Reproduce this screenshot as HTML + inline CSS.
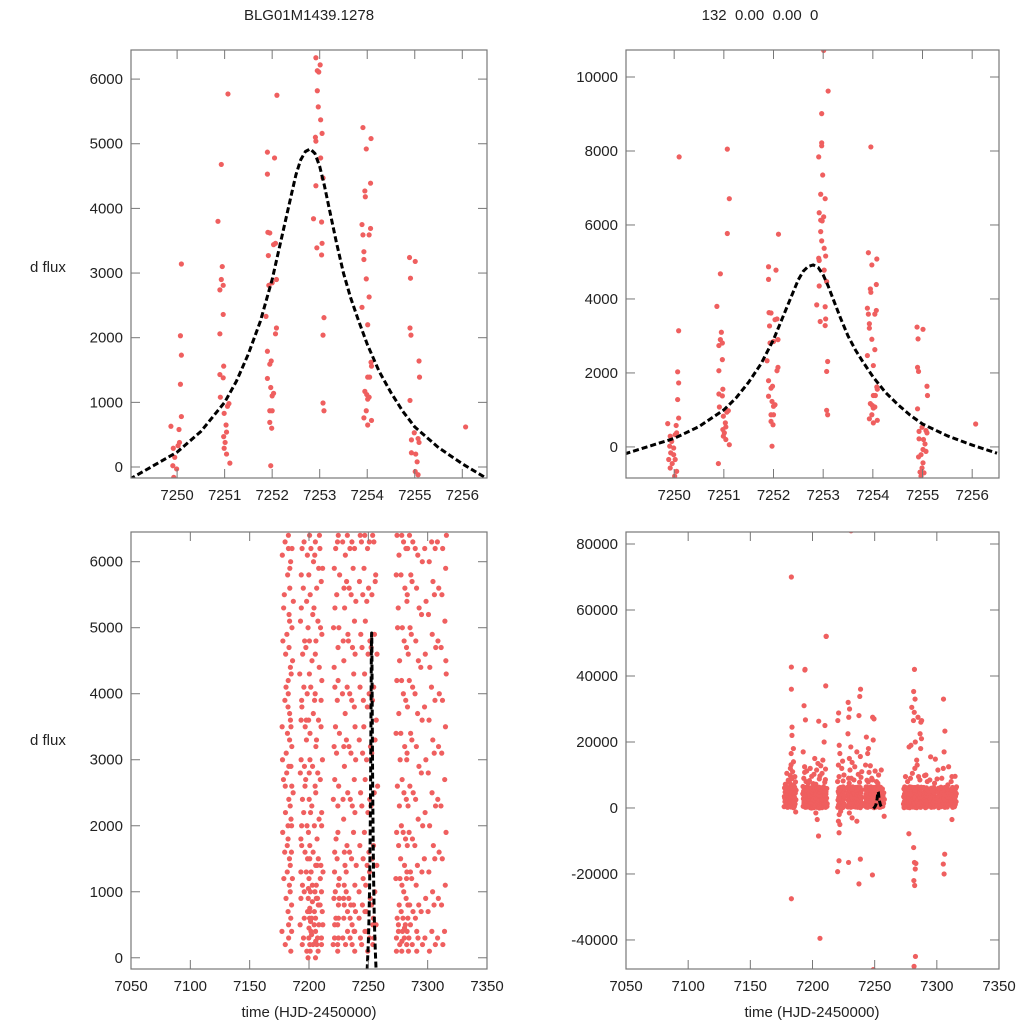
<!DOCTYPE html>
<html><head><meta charset="utf-8"><style>
html,body{margin:0;padding:0;background:#fff;width:1024px;height:1024px;overflow:hidden;}
svg{display:block;font-family:"Liberation Sans",sans-serif;}
</style></head><body>
<svg id="chart" width="1024" height="1024" viewBox="0 0 1024 1024" xmlns="http://www.w3.org/2000/svg">
<rect width="1024" height="1024" fill="#fff"/>
<text x="309" y="20" font-size="15" text-anchor="middle" fill="#222">BLG01M1439.1278</text>
<text x="760" y="20" font-size="15" text-anchor="middle" fill="#222" xml:space="preserve">132  0.00  0.00  0</text>
<text x="30" y="272" font-size="15" fill="#222">d flux</text>
<text x="30" y="745" font-size="15" fill="#222">d flux</text>
<text x="309" y="1017" font-size="15" text-anchor="middle" fill="#222">time (HJD-2450000)</text>
<text x="812" y="1017" font-size="15" text-anchor="middle" fill="#222">time (HJD-2450000)</text>
</svg>
<script>
const topTime=[7249.87,7250.10,7250.09,7250.07,7250.09,7250.07,7250.09,7250.04,7250.05,7250.02,7249.92,7249.95,7249.91,7249.99,7249.93,7249.99,7249.89,7250.02,7249.96,7249.92,7250.05,7250.01,7249.99,
7251.07,7251.11,7251.07,7250.93,7250.86,7250.95,7250.93,7250.97,7250.90,7250.97,7250.90,7250.98,7250.90,7250.97,7250.91,7251.09,7251.06,7250.99,7251.03,7251.04,7250.98,7251.01,7250.99,7251.04,7251.11,7250.89,
7252.10,7252.05,7251.90,7251.90,7251.91,7251.95,7252.07,7252.03,7251.92,7252.09,7252.00,7251.93,7251.87,7252.09,7252.07,7251.90,7251.98,7251.95,7251.90,7251.97,7252.03,7252.00,7251.95,7252.00,7251.95,7251.99,7251.97,
7253.01,7253.10,7252.97,7252.97,7252.97,7252.91,7252.99,7252.95,7253.04,7252.92,7253.01,7252.95,7252.98,7252.95,7252.97,7253.02,7253.05,7252.91,7252.92,7253.02,7253.07,7252.92,7252.87,7253.04,7253.05,7252.94,7253.04,7253.09,7253.07,7253.07,7253.09,
7253.96,7253.91,7254.08,7253.98,7253.95,7253.96,7254.07,7253.89,7254.07,7253.91,7254.04,7253.93,7253.93,7253.98,7254.04,7253.89,7254.01,7254.08,7254.09,7254.01,7254.05,7253.95,7253.99,7254.04,7254.01,7253.98,7253.93,7254.09,7254.01,
7254.89,7255.01,7254.91,7254.90,7254.92,7254.90,7255.09,7255.10,7254.93,7254.99,7255.07,7255.09,7255.02,7254.93,7255.05,7255.01,7255.07,7254.97,7254.92,7255.01,7254.99,7254.95,7255.03,7254.97,
7256.07];
const topFlux=[630,7840,3140,2030,1730,1280,780,580,380,330,290,150,20,-30,-160,-210,-340,-340,-450,-570,-660,-790,-880,
8050,6710,5770,4680,3800,3100,2900,2810,2740,2360,2060,1560,1430,1380,1080,980,940,830,650,540,470,380,290,200,60,-450,
5750,4780,4870,4530,3630,3620,3460,3440,3270,2900,2850,2810,2330,2150,2060,1790,1640,1590,1370,1230,1140,1100,870,870,690,600,20,
10720,9620,9010,8220,8140,7840,7350,6830,6710,6330,6220,6130,6110,5820,5570,5370,5160,5100,5040,4780,4470,4350,3840,3790,3460,3390,3280,2310,2040,990,870,
8110,5250,5080,4920,4270,4180,4390,3750,3690,3590,3590,3330,3210,2910,2630,2470,2200,1620,1560,1390,1390,1170,1120,1080,1050,870,760,720,650,
3240,3180,2920,2150,2040,1030,1640,1390,420,530,440,380,200,220,80,-70,-120,-210,-270,-430,-570,-680,-700,-790,
620];
const modelTime=[7249.0,7249.5,7250,7250.5,7251,7251.25,7251.5,7251.75,7252,7252.2,7252.4,7252.5,7252.6,7252.7,7252.8,7252.9,7253,7253.1,7253.2,7253.35,7253.5,7253.65,7253.8,7254,7254.25,7254.5,7254.75,7255,7255.5,7256,7256.5];
const modelFlux=[-190,20,230,550,1000,1330,1750,2250,2900,3550,4200,4520,4750,4880,4920,4850,4650,4350,4000,3480,3000,2620,2300,1900,1480,1150,860,620,300,50,-170];
const nightTime=[7178,7180,7182,7183,7184,7185,7186,7193,7194,7196,7198,7200,7201,7203,7205,7206,7208,7210,7211,7221,7222,7224,7225,7229,7230,7232,7234,7236,7238,7239,7243,7245,7247,7249,7251,7253,7255,7257,7274,7276,7278,7280,7282,7283,7285,7287,7290,7292,7295,7298,7301,7304,7306,7309,7312,7315];
const nightFluxK=[
[0.4,1.9,2.7,3.5,4.8,5.3,6.1,7.2,1.2,3.0],
[0.2,0.9,1.6,2.2,3.1,3.9,4.6,5.5,6.3,8.4,10.5,2.6,4.1],
[0.5,1.3,2.0,2.8,3.4,4.2,4.9,5.8,6.4,7.7,9.8,13.1,1.7,3.8],
[0.3,1.1,1.8,2.4,3.3,4.0,4.7,5.6,6.2,7.0,12.0,16.5,22.0,0.7,2.9,5.1],
[0.6,1.5,2.3,2.9,3.7,4.4,5.2,5.9,6.8,8.9,11.0,18.0,24.5,1.0,3.5],
[0.1,0.8,1.4,2.1,2.6,3.6,4.3,5.0,6.0,6.6,9.5,14.0,2.0],
[-1.2,0.4,1.2,2.5,3.2,4.5,5.4,6.2,7.9,1.6],
[0.5,1.3,2.0,2.8,3.6,4.3,5.1,5.8,6.5,9.0,12.5,17.0,1.8,3.9],
[0.2,0.9,1.7,2.4,3.0,3.8,4.6,5.3,6.2,8.0,10.8,26.7,31.0,41.8,1.1],
[0.3,1.0,1.6,2.2,2.9,3.5,4.1,4.8,5.6,6.3,7.5,11.2,0.6,2.6],
[0.1,0.7,1.3,2.0,2.7,3.3,4.0,4.7,5.4,6.1,8.3,12.0,1.5,3.6],
[0.0,0.3,0.6,0.9,1.2,1.5,1.9,2.4,3.0,3.6,4.3,5.0,5.8,6.4,9.6,0.45,0.75,1.05],
[0.1,0.4,0.7,1.0,1.3,1.7,2.2,2.8,3.4,4.1,4.8,5.5,6.2,7.4,10.2,15.0,0.2,0.55],
[-3.5,-1.5,0.2,0.6,1.1,1.6,2.3,2.9,3.7,4.5,5.2,6.0,7.2,11.5,0.35,0.85],
[-8.5,0.0,0.5,1.0,1.4,2.0,2.6,3.2,3.9,4.6,5.3,6.1,8.8,13.5,26.3,0.25,0.7],
[0.2,0.6,1.1,1.8,2.5,3.3,4.0,4.8,5.6,6.3,9.7,12.8,0.4,0.9,1.4],
[0.1,0.5,0.9,1.5,2.1,2.8,3.6,4.4,5.1,5.9,6.4,10.5,14.5,0.3,0.8],
[0.3,0.8,1.4,2.0,2.7,3.5,4.2,5.0,5.7,6.2,7.8,11.8,20.0,25.0,37.0,1.2],
[0.2,0.7,1.3,2.2,3.0,3.9,4.9,5.9,8.6,52.0,0.5,1.0],
[-16.0,-19.3,-4.0,-2.0,0.2,0.9,1.6,2.4,3.2,4.1,5.0,5.9,8.0,13.0,19.0,26.5,28.8,0.5],
[-7.5,-5.0,-1.0,0.3,1.0,1.8,2.7,3.5,4.4,5.3,6.2,9.5,16.5,0.6,1.3],
[0.2,0.8,1.5,2.3,3.1,3.9,4.7,5.5,6.3,8.2,12.0,0.5,1.1],
[0.1,0.6,1.2,1.9,2.6,3.4,4.2,5.0,5.8,6.4,10.0,14.2,0.3,0.9],
[-16.5,-1.5,0.3,0.9,1.6,2.4,3.2,4.0,4.8,5.6,6.3,9.0,15.0,22.5,27.5,30.0,32.0,0.6],
[0.2,0.8,1.4,2.1,2.9,3.7,4.5,5.3,6.1,7.5,11.5,18.5,1.1],
[-3.0,0.4,1.0,1.7,2.5,3.3,4.1,4.9,5.7,6.4,9.0,13.8,0.7,1.3],
[0.3,0.9,1.6,2.4,3.2,4.0,4.8,5.6,6.2,8.5,12.5,0.6],
[-4.0,0.2,0.8,1.5,2.3,3.1,3.9,4.7,5.5,6.3,10.2,17.0,0.5],
[-15.5,-23.0,0.4,1.1,1.9,2.7,3.5,4.3,5.1,5.9,7.8,15.6,28.0,33.8,36.0,0.8],
[0.1,0.7,1.4,2.2,3.0,3.8,4.6,5.4,6.2,9.3,11.0,0.4],
[0.3,1.0,1.7,2.5,3.3,4.1,4.9,5.7,6.4,8.4,13.0,21.5,0.6],
[0.2,0.8,1.5,2.3,3.1,3.9,4.7,5.5,6.3,7.9,10.8,16.5,18.0,1.2],
[0.4,1.1,1.9,2.7,3.5,4.3,5.1,5.9,6.4,9.0,12.8,0.7],
[-20.3,-49.0,0.1,0.7,1.4,2.2,3.0,3.8,4.6,5.4,6.2,8.5,20.6,27.0,27.5,0.4],
[0.3,0.9,1.6,2.4,3.2,4.0,4.8,5.6,6.3,8.0,11.2,1.3],
[0.2,0.8,1.5,2.3,3.1,3.9,4.7,5.5,6.4,7.5,10.0,0.5],
[0.3,1.0,1.7,2.5,3.3,4.1,4.9,5.7,6.3,11.5,0.6],
[-2.5,0.5,1.4,2.6,3.6,4.6,5.8],
[0.1,0.6,1.2,1.9,2.6,3.4,4.2,5.0,5.8,6.4,9.5,0.3],
[0.2,0.5,0.8,1.2,1.7,2.3,3.0,3.7,4.5,5.3,6.1,8.0,0.4],
[-7.8,0.1,0.4,0.7,1.1,1.5,2.0,2.7,3.4,4.2,5.0,5.8,6.4,9.0,18.5,0.25],
[0.3,0.6,1.0,1.4,1.9,2.5,3.2,4.0,4.8,5.6,6.3,10.5,19.0,30.5,0.45],
[-12.0,-16.5,-18.5,-22.0,-23.5,-45.0,-48.0,0.2,0.5,0.9,1.3,1.8,2.4,3.1,3.9,4.7,5.5,6.2,12.0,26.5,29.0,33.0,35.3,42.0],
[-16.8,0.1,0.4,0.8,1.2,1.7,2.3,3.0,3.8,4.6,5.4,6.2,14.5,20.0,0.6],
[0.3,0.8,1.3,1.9,2.6,3.4,4.2,5.0,5.8,6.4,9.5,13.0,27.5,0.5],
[0.2,0.7,1.2,1.8,2.5,3.3,4.1,4.9,5.7,6.3,8.5,18.0,21.0,22.5,26.0,26.5],
[0.1,0.6,1.1,1.7,2.4,3.2,4.0,4.8,5.6,6.2,9.8,0.4],
[0.3,0.8,1.4,2.1,2.9,3.7,4.5,5.3,6.1,8.0,10.0],
[0.2,0.7,1.3,2.0,2.8,3.6,4.4,5.2,6.0,8.5,15.5],
[0.3,0.9,1.5,2.2,3.0,3.8,4.6,5.4,6.2,7.5,14.8],
[0.1,0.7,1.3,2.0,2.8,3.6,4.4,5.2,6.0,8.8,11.5],
[0.4,1.0,1.7,2.5,3.3,4.1,4.9,5.7,6.3,9.0],
[-14.0,-17.0,-20.0,0.2,0.8,1.5,2.3,3.1,3.9,4.7,5.5,6.2,12.0,17.0,23.3,33.0],
[0.3,0.9,1.6,2.4,3.2,4.0,4.8,5.6,6.3,7.0,12.5],
[-3.5,0.2,0.8,1.5,2.3,3.1,3.9,4.7,5.5,6.2,8.0,9.5],
[0.4,1.1,1.9,2.7,3.5,4.3,5.1,5.9,6.4,9.6,4.5]
];
const extraTime=[7183,7183,7183,7183,7206,7211,7231,7194];
const extraFluxK=[70.0,42.7,36.0,-27.5,-39.5,52.0,84.0,42.0];
const xTicksTop=[7250,7251,7252,7253,7254,7255,7256];
const xTicksBottom=[7050,7100,7150,7200,7250,7300,7350];
const yTicksTL=[0,1000,2000,3000,4000,5000,6000];
const yTicksTR=[0,2000,4000,6000,8000,10000];
const yTicksBL=[0,1000,2000,3000,4000,5000,6000];
const yTicksBR=[-40000,-20000,0,20000,40000,60000,80000];

const NS='http://www.w3.org/2000/svg';
const svg=document.getElementById('chart');
function mk(tag,attrs,parent){const e=document.createElementNS(NS,tag);for(const k in attrs)e.setAttribute(k,attrs[k]);(parent||svg).appendChild(e);return e;}
let clipN=0;
function panel(name,box,xr,yr,xt,yt){
  const sx=v=>box.x0+(v-xr[0])/(xr[1]-xr[0])*(box.x1-box.x0);
  const sy=v=>box.y1-(v-yr[0])/(yr[1]-yr[0])*(box.y1-box.y0);
  const g=mk('g',{});
  
  
  const id='clip'+(clipN++);
  const cp=mk('clipPath',{id:id},g);
  mk('rect',{x:box.x0,y:box.y0,width:box.x1-box.x0,height:box.y1-box.y0},cp);
  const plot=mk('g',{'clip-path':'url(#'+id+')'},g);
  xt.forEach(v=>{
    const x=sx(v);
    const t1=mk('line',{x1:x,x2:x,y1:box.y1,y2:box.y1-9,stroke:'#777','stroke-width':1},g);
    
    
    mk('line',{x1:x,x2:x,y1:box.y0,y2:box.y0+9,stroke:'#777','stroke-width':1},g);
    const tx=mk('text',{x:x,y:box.y1+22,'font-size':15,'text-anchor':'middle',fill:'#222'},g);
    tx.textContent=v;
    
    
  });
  yt.forEach(v=>{
    const y=sy(v);
    const t1=mk('line',{x1:box.x0,x2:box.x0+9,y1:y,y2:y,stroke:'#777','stroke-width':1},g);
    
    
    mk('line',{x1:box.x1,x2:box.x1-9,y1:y,y2:y,stroke:'#777','stroke-width':1},g);
    const tx=mk('text',{x:box.x0-8,y:y+5,'font-size':15,'text-anchor':'end',fill:'#222'},g);
    tx.textContent=v;
    
    
  });
  const fr=mk('rect',{x:box.x0,y:box.y0,width:box.x1-box.x0,height:box.y1-box.y0,fill:'none',stroke:'#777','stroke-width':1.2},g);
  
  
  return {sx,sy,plot};
}
function points(p,ts,vs,scale){
  for(let i=0;i<ts.length;i++){
    const c=mk('circle',{cx:p.sx(ts[i]),cy:p.sy(vs[i]*scale),r:2.6,fill:'#ef5f5f'},p.plot);
    
    
  }
}
function nights(p){
  nightTime.forEach((t,i)=>{
    const vals=nightFluxK[i];
    vals.forEach((v,j)=>{
      const dt=((j*37+i*5)%11-5)*0.16;
      const c=mk('circle',{cx:p.sx(t+dt),cy:p.sy(v*1000),r:2.6,fill:'#ef5f5f'},p.plot);
      
      
    });
  });
  points(p,extraTime,extraFluxK,1000);
}
function model(p){
  const d=modelTime.map((t,i)=>(i?'L':'M')+p.sx(t).toFixed(2)+','+p.sy(modelFlux[i]).toFixed(2)).join('');
  const pa=mk('path',{d:d,fill:'none',stroke:'#000','stroke-width':3,'stroke-dasharray':'6,3','stroke-linejoin':'round'},p.plot);
  
  
}
const tl=panel('panel-top-left',{x0:131,x1:487,y0:50,y1:478},[7249.03,7256.52],[-170,6450],xTicksTop,yTicksTL);
points(tl,topTime,topFlux,1);model(tl);
const tr=panel('panel-top-right',{x0:626,x1:999,y0:50,y1:478},[7249.03,7256.54],[-840,10730],xTicksTop,yTicksTR);
points(tr,topTime,topFlux,1);model(tr);
const bl=panel('panel-bottom-left',{x0:131,x1:487,y0:532,y1:969},[7050,7350],[-170,6450],xTicksBottom,yTicksBL);
nights(bl);model(bl);
const br=panel('panel-bottom-right',{x0:626,x1:999,y0:532,y1:969},[7050,7350],[-48800,83640],xTicksBottom,yTicksBR);
nights(br);model(br);
</script>
</body></html>
